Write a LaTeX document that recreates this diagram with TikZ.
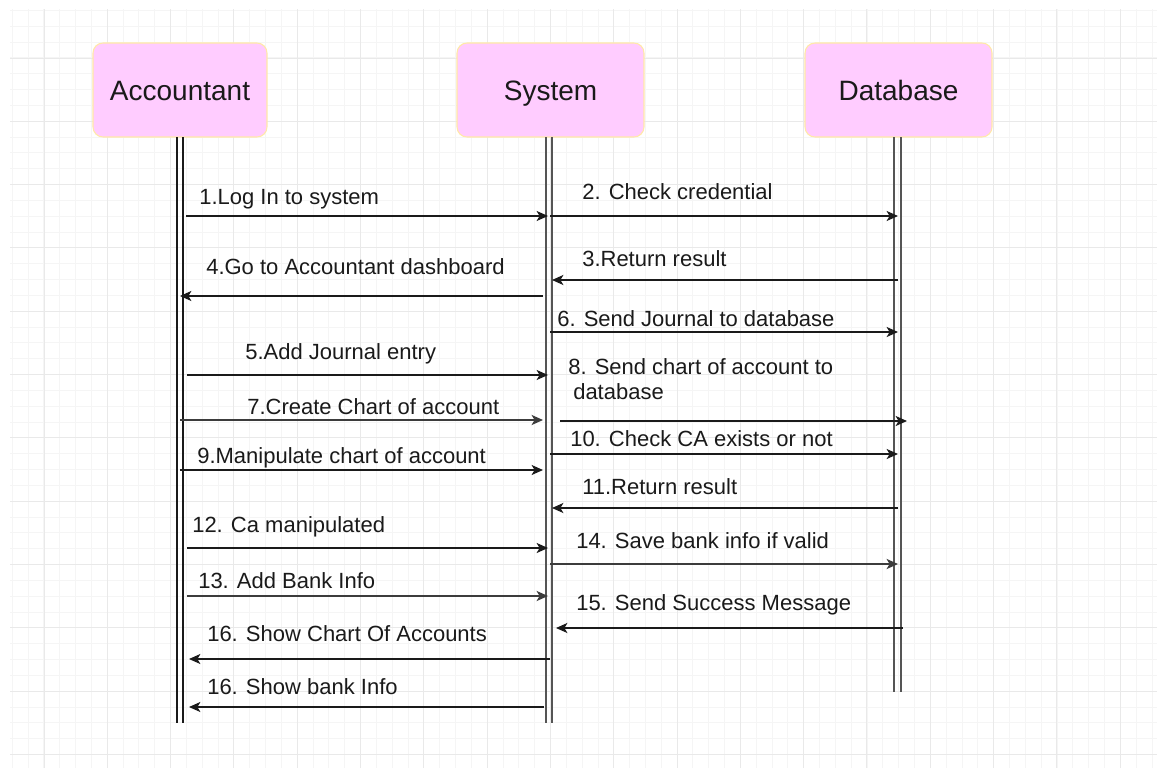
\documentclass[tikz,border=0pt]{standalone}
\usepackage{fontspec}
\setmainfont{Liberation Sans}
\usetikzlibrary{arrows.meta}

\definecolor{boxfill}{HTML}{FFCCFF}
\definecolor{boxline}{HTML}{FFE9A8}
\definecolor{gridminor}{HTML}{F5F5F5}
\definecolor{gridmajor}{HTML}{E9E9E9}
\definecolor{ink}{HTML}{1A1A1A}
\definecolor{lifegray}{HTML}{555555}
\definecolor{msggray}{HTML}{3C3C3C}

\tikzset{
  actor/.style={draw=boxline, line width=0.8pt, fill=boxfill, rounded corners=7.5pt,
    minimum height=70.5pt, inner sep=0pt, text=ink,
    font=\fontsize{21}{25}\selectfont, text height=15pt, text depth=0pt},
  lifeblack/.style={draw=ink, line width=1.5pt},
  lifegrey/.style={draw=lifegray, line width=1.7pt},
  msg/.style={draw=ink, line width=1.3pt, -{Stealth[length=8.5pt, width=7.5pt, inset=2.2pt]}},
  msggrey/.style={msg, draw=msggray, line width=1.7pt},
  lbl/.style={anchor=base west, inner sep=0pt, text=ink, font=\fontsize{16.5}{18.75}\selectfont}
}

\begin{document}
\begin{tikzpicture}[x=0.75pt,y=-0.75pt]
\useasboundingbox (0,0) rectangle (1157,768);
\fill[white] (0,0) rectangle (1157,768);

% background grid
\begin{scope}
  \clip (10,9) rectangle (1157,768);
  \foreach \k in {0,...,72} \draw[gridminor, line width=0.75pt] ({12.3+15.83*\k},9) -- ({12.3+15.83*\k},768);
  \foreach \k in {0,...,48} \draw[gridminor, line width=0.75pt] (10,{10.5+15.83*\k}) -- (1157,{10.5+15.83*\k});
  \foreach \k in {0,...,17} \draw[gridmajor, line width=0.75pt] ({44+63.3*\k},9) -- ({44+63.3*\k},768);
  \foreach \k in {0,...,11} \draw[gridmajor, line width=0.75pt] (10,{58+63.3*\k}) -- (1157,{58+63.3*\k});
\end{scope}

% participants
\node[actor, minimum width=130.5pt] (acc) at (180,90) {Accountant};
\node[actor, minimum width=140.25pt] (sys) at (550.5,90) {System};
\node[actor, minimum width=140.25pt] (db) at (898.5,90) {Database};

% lifelines (double rails)
\coordinate (accL1) at (177,137);   \coordinate (accL1e) at (177,723);
\coordinate (accL2) at (182.5,137); \coordinate (accL2e) at (182.5,723);
\coordinate (sysL1) at (546,137);   \coordinate (sysL1e) at (546,723);
\coordinate (sysL2) at (552,137);   \coordinate (sysL2e) at (552,723);
\coordinate (dbL1) at (894.3,137);  \coordinate (dbL1e) at (894.3,692);
\coordinate (dbL2) at (900.7,137);  \coordinate (dbL2e) at (900.7,692);
\draw[lifeblack] (accL1) -- (accL1e);
\draw[lifeblack] (accL2) -- (accL2e);
\draw[lifegrey] (sysL1) -- (sysL1e);
\draw[lifegrey] (sysL2) -- (sysL2e);
\draw[lifegrey] (dbL1) -- (dbL1e);
\draw[lifegrey] (dbL2) -- (dbL2e);

% messages: name / from x / to x / y / style
\foreach \n/\xa/\xb/\y/\st in {
  m1/186/548/216/msg, m2/550/898/216/msg, m3/898/552/280/msg,
  m4/543/180/296/msg, m6/550/898/332/msg, m5/187/548/375/msg,
  m8/560/907/421/msg, m7/180/543/420/msggrey, m10/550/898/454/msg,
  m9/180/543/470/msg, m11/898/552/508/msg, m12/187/548/548/msg,
  m14/550/898/564/msggrey, m13/187/548/596/msggrey, m15/903/556/628/msg,
  m16a/550/189/659/msg, m16b/544/189/707/msg}
{
  \coordinate (\n s) at (\xa,\y);
  \coordinate (\n e) at (\xb,\y);
  \draw[\st] (\n s) -- (\n e);
}

% message labels
\node[lbl] (t1)  at (199,204.5) {1.Log In to system};
\node[lbl] (t2)  at (582,199.5) {2. Check credential};
\node[lbl] (t3)  at (582,266.5) {3.Return result};
\node[lbl] (t4)  at (206,274.5) {4.Go to Accountant dashboard};
\node[lbl] (t6)  at (557,326.5) {6. Send Journal to database};
\node[lbl] (t5)  at (245,359.5) {5.Add Journal entry};
\node[lbl] (t8a) at (568,374.5) {8. Send chart of account to};
\node[lbl] (t8b) at (573,399.5) {database};
\node[lbl] (t7)  at (247,414.5) {7.Create Chart of account};
\node[lbl] (t10) at (570,446.5) {10. Check CA exists or not};
\node[lbl] (t9)  at (197,463.5) {9.Manipulate chart of account};
\node[lbl] (t11) at (582,494.5) {11.Return result};
\node[lbl] (t12) at (192,532) {12. Ca manipulated};
\node[lbl] (t14) at (576,548.5) {14. Save bank info if valid};
\node[lbl] (t13) at (198,588.5) {13. Add Bank Info};
\node[lbl] (t15) at (576,610.5) {15. Send Success Message};
\node[lbl] (t16a) at (207,641.5) {16. Show Chart Of Accounts};
\node[lbl] (t16b) at (207,694.5) {16. Show bank Info};
\end{tikzpicture}
\end{document}
